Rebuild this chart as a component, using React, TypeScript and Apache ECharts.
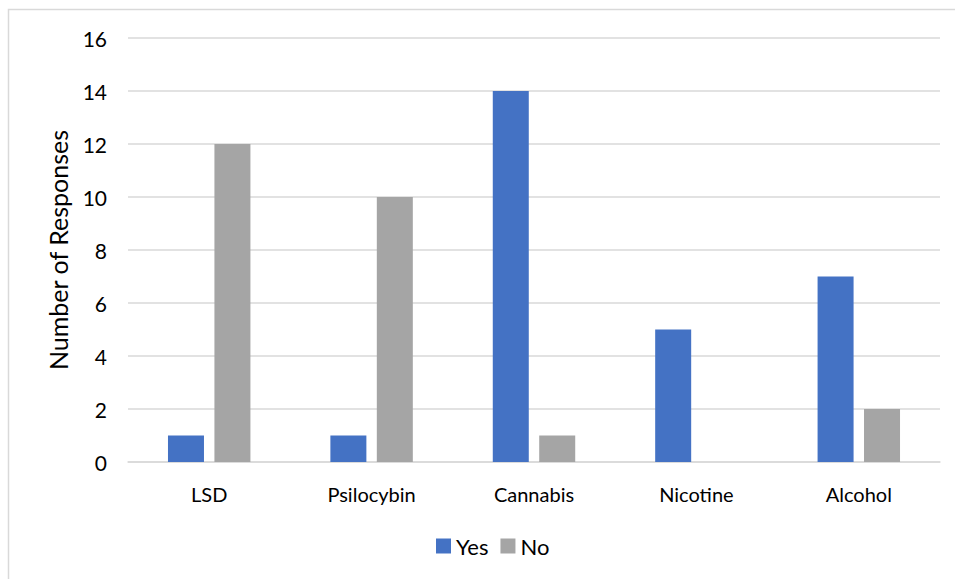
import React, { useEffect, useRef } from "react";
import * as echarts from "echarts";

const categories = ["LSD", "Psilocybin", "Cannabis", "Nicotine", "Alcohol"];
const yesValues = [1, 1, 14, 5, 7];
const noValues = [12, 10, 1, 0, 2];
const seriesNames = ["Yes", "No"];

const FONT = "Lato, 'Open Sans', 'Liberation Sans', sans-serif";

export default function App() {
  const ref = useRef<HTMLDivElement>(null);

  useEffect(() => {
    if (!ref.current) return;
    const chart = echarts.init(ref.current, null, { renderer: "svg" });
    chart.setOption({
      animation: false,
      backgroundColor: "#ffffff",
      textStyle: { fontFamily: FONT },
      graphic: [
        {
          type: "rect",
          shape: { x: 8.5, y: 9.5, width: 970, height: 600 },
          style: { fill: "none", stroke: "#d9d9d9", lineWidth: 1.5 },
          silent: true,
        },
      ],
      grid: { left: 128, right: 15, top: 38, bottom: 117 },
      legend: {
        top: 530,
        left: 431,
        itemWidth: 15,
        itemHeight: 15,
        itemGap: 12,
        icon: "rect",
        textStyle: { fontSize: 22, color: "#000", fontFamily: FONT },
        data: seriesNames,
      },
      xAxis: {
        type: "category",
        data: categories,
        axisTick: { show: false },
        axisLine: { lineStyle: { color: "#d9d9d9", width: 1.5 } },
        axisLabel: { fontSize: 20, color: "#000", margin: 22, fontFamily: FONT },
      },
      yAxis: {
        type: "value",
        min: 0,
        max: 16,
        interval: 2,
        name: "Number of Responses",
        nameLocation: "middle",
        nameGap: 58,
        nameTextStyle: { fontSize: 25, color: "#000", fontFamily: FONT },
        axisLabel: { fontSize: 21, color: "#000", margin: 21, fontFamily: FONT },
        splitLine: { lineStyle: { color: "#d9d9d9", width: 1.5 } },
        axisLine: { show: false },
        axisTick: { show: false },
      },
      series: [
        {
          name: seriesNames[0],
          type: "bar",
          data: yesValues,
          barWidth: 36,
          barGap: "29%",
          itemStyle: { color: "#4472c4" },
        },
        {
          name: seriesNames[1],
          type: "bar",
          data: noValues,
          barWidth: 36,
          itemStyle: { color: "#a5a5a5" },
        },
      ],
    });
    return () => chart.dispose();
  }, []);

  return (
    <div
      ref={ref}
      style={{ position: "fixed", left: 0, top: 0, width: 955, height: 579 }}
    />
  );
}
